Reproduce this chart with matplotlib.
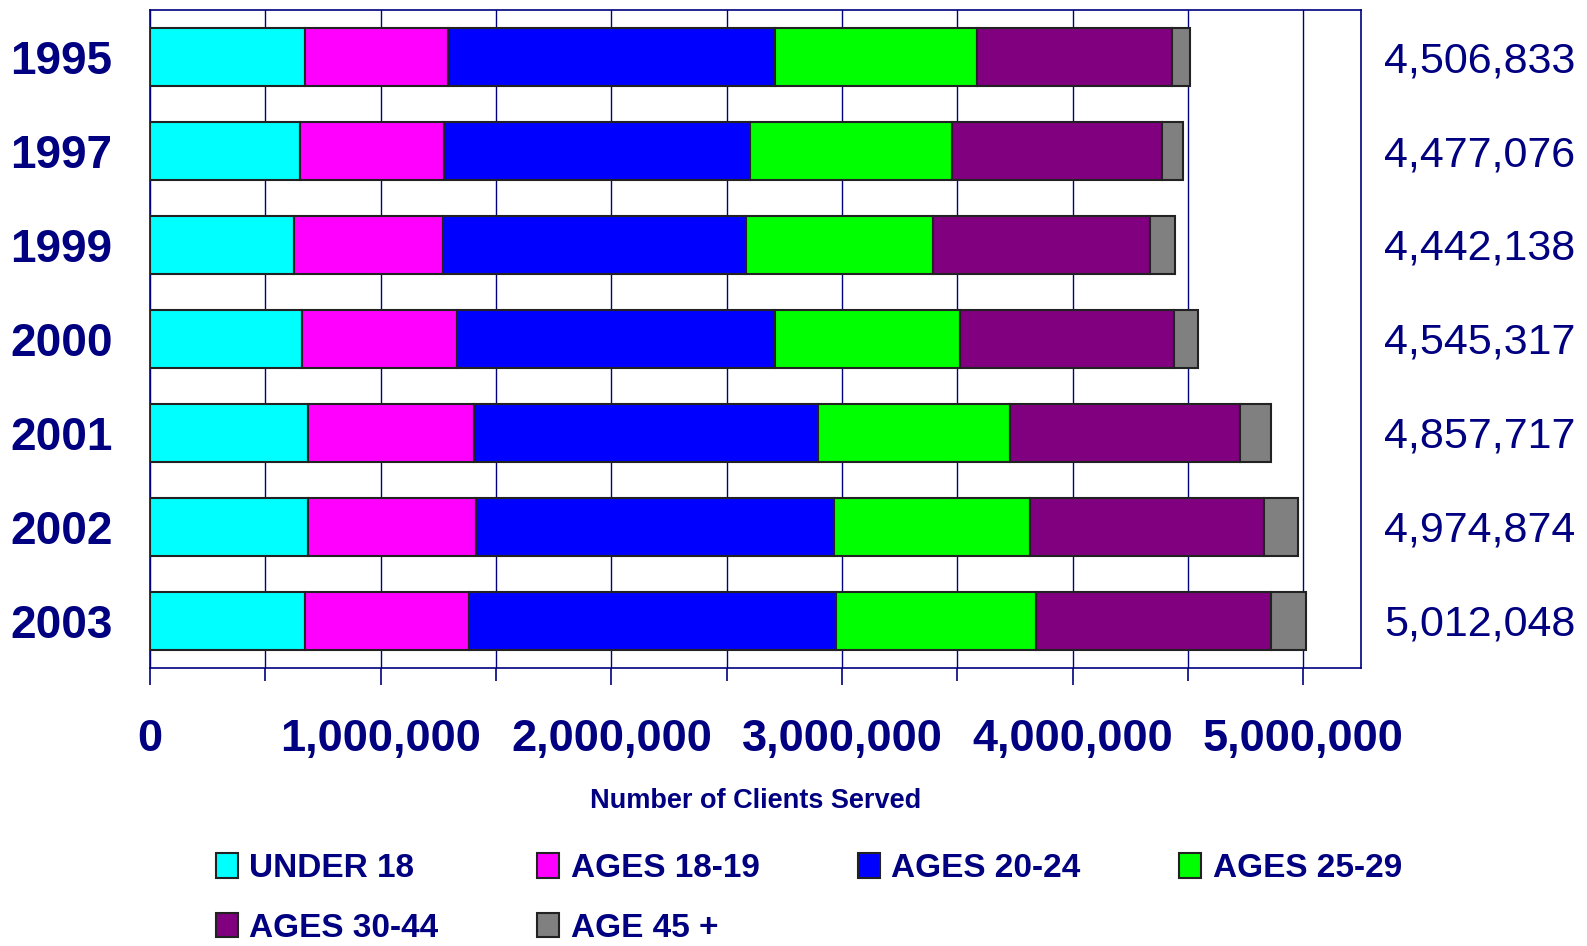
import matplotlib
matplotlib.use("Agg")
import matplotlib.pyplot as plt
import matplotlib.transforms as mtransforms
from matplotlib.patches import Patch
from matplotlib.ticker import MultipleLocator, StrMethodFormatter
import numpy as np

years = ["1995", "1997", "1999", "2000", "2001", "2002", "2003"]
totals = [4506833, 4477076, 4442138, 4545317, 4857717, 4974874, 5012048]

groups = ["UNDER 18", "AGES 18-19", "AGES 20-24", "AGES 25-29", "AGES 30-44", "AGE 45 +"]
colors = ["#00FFFF", "#FF00FF", "#0000FF", "#00FF00", "#800080", "#808080"]

# values, one list per age group (1995 .. 2003)
under_18 = [674000, 652000, 626000, 657000, 687000, 687000, 670000]
ages_18_19 = [618000, 622000, 644000, 674000, 718000, 727000, 714000]
ages_20_24 = [1418000, 1327000, 1313000, 1379000, 1493000, 1550000, 1589000]
ages_25_29 = [876000, 875000, 810000, 801000, 832000, 849000, 867000]
ages_30_44 = [845000, 911000, 942000, 929000, 994000, 1016000, 1020000]
age_45_plus = [76000, 90000, 107000, 105000, 134000, 146000, 152000]

series = [under_18, ages_18_19, ages_20_24, ages_25_29, ages_30_44, age_45_plus]

navy = "#000080"
font = ["Liberation Sans", "DejaVu Sans"]

fig = plt.figure(figsize=(15.87, 9.46), dpi=100)
ax = fig.add_axes([0.0945, 0.294, 0.7631, 0.695])

y = np.arange(len(years))
left = np.zeros(len(years))
for vals, name, col in zip(series, groups, colors):
    ax.barh(y, vals, left=left, height=0.62, color=col, edgecolor="#222222",
            linewidth=1.5, label=name, zorder=3)
    left += np.array(vals)

ax.set_xlim(0, 5250000)
ax.set_ylim(len(years) - 0.5, -0.5)

ax.xaxis.set_major_locator(MultipleLocator(1000000))
ax.xaxis.set_minor_locator(MultipleLocator(500000))
ax.xaxis.set_major_formatter(StrMethodFormatter("{x:,.0f}"))
ax.grid(True, axis="x", which="both", color=navy, linewidth=1.0, zorder=0)
ax.set_axisbelow(True)

ax.tick_params(axis="x", which="major", length=12, width=1.2, color=navy, pad=25)
ax.tick_params(axis="x", which="minor", length=9, width=1.2, color=navy)
ax.tick_params(axis="y", length=0, pad=27)
for sp in ax.spines.values():
    sp.set_color(navy)
    sp.set_linewidth(1.2)

ax.set_yticks(y)
ax.set_yticklabels(years)
for lab in ax.get_yticklabels():
    lab.set_fontfamily(font)
    lab.set_fontweight("bold")
    lab.set_fontsize(33)
    lab.set_color(navy)
for lab in ax.get_xticklabels():
    lab.set_fontfamily(font)
    lab.set_fontweight("bold")
    lab.set_fontsize(32.5)
    lab.set_color(navy)

ax.set_xlabel("Number of Clients Served", family=font, fontweight="bold",
              fontsize=19.5, color=navy, labelpad=20)

# totals at the right of the plot area
trans = mtransforms.blended_transform_factory(fig.transFigure, ax.transData)
for yi, tot in zip(y, totals):
    ax.text(0.9925, yi + 0.04, f"{tot:,}", transform=trans, ha="right", va="center",
            family=font, fontsize=31, color=navy)

# legend laid out row-first like the original
handles = [Patch(facecolor=c, edgecolor="#222222", linewidth=1.5) for c in colors]
order = [0, 4, 1, 5, 2, 3]
leg = fig.legend([handles[i] for i in order], [groups[i] for i in order],
                 ncol=4, loc="upper left", bbox_to_anchor=(0.136, 0.098),
                 frameon=False, borderpad=0, borderaxespad=0,
                 handlelength=0.66, handleheight=0.75, handletextpad=0.35,
                 columnspacing=2.95, labelspacing=0.85,
                 prop={"family": font, "weight": "bold", "size": 24})
for t in leg.get_texts():
    t.set_color(navy)

fig.savefig("out.png", dpi=100)
